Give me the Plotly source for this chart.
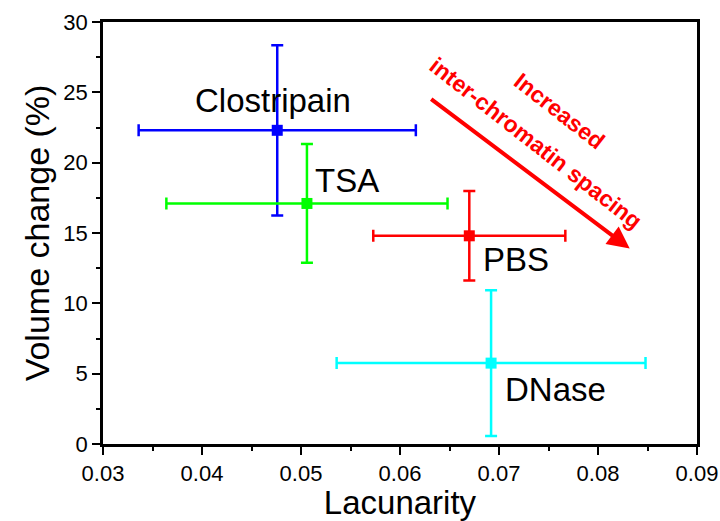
import plotly.graph_objects as go

names = ["Clostripain", "TSA", "PBS", "DNase"]
lacunarity = [0.0476, 0.0506, 0.0670, 0.0692]
lac_err = [0.0140, 0.0142, 0.0097, 0.0156]
volume = [22.3, 17.1, 14.8, 5.75]
vol_err = [6.05, 4.22, 3.18, 5.18]
colors = ["#0000FF", "#00FF00", "#FF0000", "#00FFFF"]
label_x = [0.0472, 0.0512, 0.0682, 0.0704]
label_y = [24.4, 18.7, 13.1, 3.9]
label_anchor = ["center", "left", "left", "left"]

FONT = "Liberation Sans, Arial, sans-serif"

fig = go.Figure()
for i in range(len(names)):
    fig.add_trace(go.Scatter(
        x=[lacunarity[i]], y=[volume[i]], mode="markers",
        marker=dict(symbol="square", size=11, color=colors[i]),
        error_x=dict(type="data", array=[lac_err[i]], color=colors[i], thickness=2.5, width=6),
        error_y=dict(type="data", array=[vol_err[i]], color=colors[i], thickness=2.5, width=6),
        showlegend=False, name=names[i]))
    fig.add_annotation(x=label_x[i], y=label_y[i], text=names[i], showarrow=False,
                       xanchor=label_anchor[i], yanchor="middle",
                       font=dict(family=FONT, size=33, color="black"))

# arrow
fig.add_annotation(x=0.0832, y=13.9, ax=0.0630, ay=24.6, xref="x", yref="y",
                   axref="x", ayref="y", text="", showarrow=True,
                   arrowhead=2, arrowsize=1.1, arrowwidth=4, arrowcolor="#FF0000")
fig.add_annotation(x=0.0761, y=23.7, text="<b>Increased</b>", showarrow=False,
                   textangle=38, font=dict(family=FONT, size=23, color="#FF0000"))
fig.add_annotation(x=0.0737, y=21.4, text="<b>inter-chromatin spacing</b>", showarrow=False,
                   textangle=38, font=dict(family=FONT, size=23, color="#FF0000"))

axis_common = dict(showline=True, linecolor="black", linewidth=2.8, mirror=True,
                   ticks="outside", ticklen=8, tickwidth=2, tickcolor="black",
                   showgrid=False, zeroline=False, automargin=False,
                   tickfont=dict(family=FONT, size=22, color="black"))

fig.update_xaxes(range=[0.03, 0.09], dtick=0.01, tick0=0.03, tickformat=".2f",
                 title=dict(text="Lacunarity", font=dict(family=FONT, size=33, color="black"), standoff=11),
                 minor=dict(dtick=0.005, ticks="outside", ticklen=4, tickwidth=2, tickcolor="black"),
                 **axis_common)
fig.update_yaxes(range=[0, 30], dtick=5, tick0=0,
                 title=dict(text="Volume change (%)", font=dict(family=FONT, size=34, color="black"), standoff=4),
                 minor=dict(dtick=2.5, ticks="outside", ticklen=4, tickwidth=2, tickcolor="black"),
                 **axis_common)

fig.update_layout(width=720, height=521, margin=dict(l=103, r=23, t=22, b=77),
                  plot_bgcolor="white", paper_bgcolor="white")

fig.write_html("out.html")
